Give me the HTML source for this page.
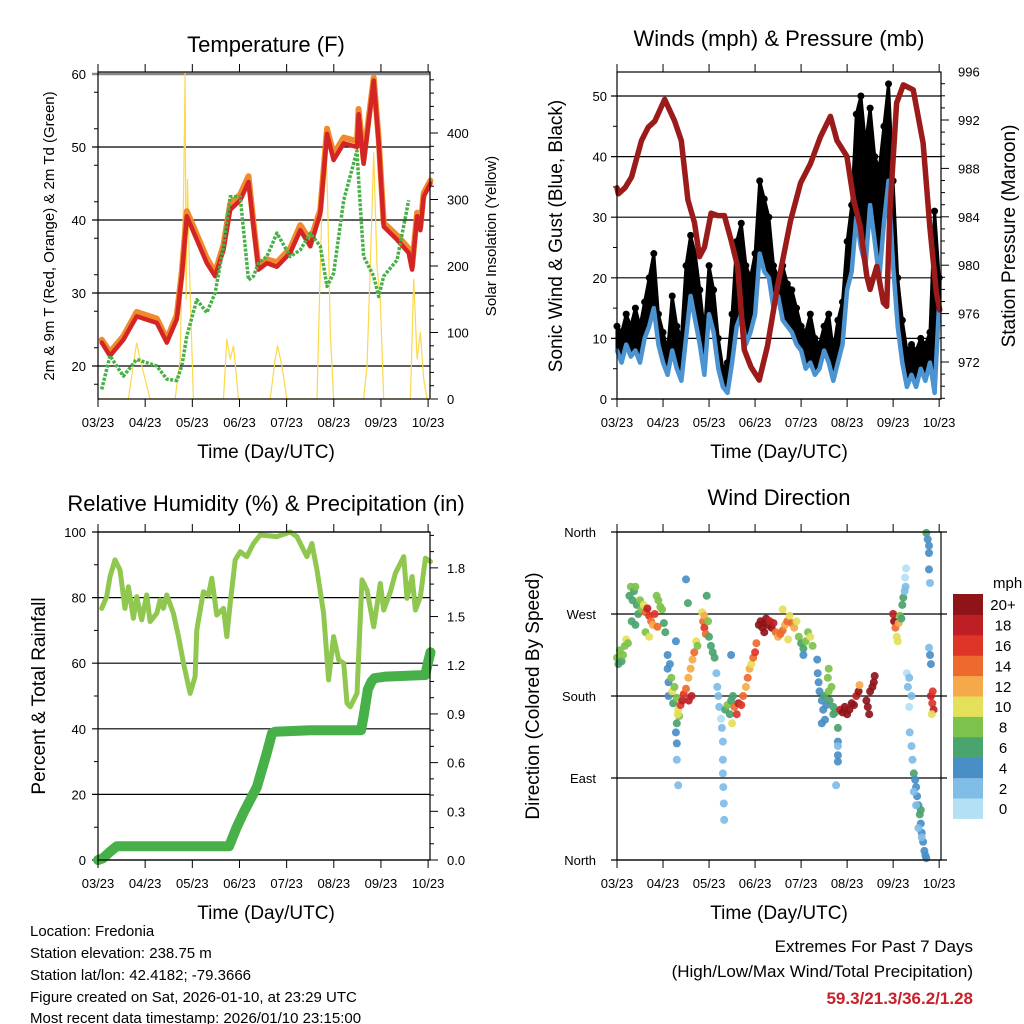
<!DOCTYPE html>
<html><head><meta charset="utf-8"><title>Station Meteogram</title>
<style>
html,body{margin:0;padding:0;background:#fff;}
svg{display:block;font-family:"Liberation Sans",Arial,sans-serif;}
</style></head>
<body>
<svg id="chart" width="1024" height="1024" viewBox="0 0 1024 1024" xmlns="http://www.w3.org/2000/svg">
<rect x="0" y="0" width="1024" height="1024" fill="#fff"/>
<g id="marks"></g>
<text x="266" y="52" font-size="22" text-anchor="middle">Temperature (F)</text>
<text x="779" y="46" font-size="22" text-anchor="middle">Winds (mph) &amp; Pressure (mb)</text>
<text x="266" y="511" font-size="22" text-anchor="middle">Relative Humidity (%) &amp; Precipitation (in)</text>
<text x="779" y="505" font-size="22" text-anchor="middle">Wind Direction</text>
<text x="266" y="458" font-size="19" text-anchor="middle">Time (Day/UTC)</text>
<text x="779" y="458" font-size="19" text-anchor="middle">Time (Day/UTC)</text>
<text x="266" y="919" font-size="19" text-anchor="middle">Time (Day/UTC)</text>
<text x="779" y="919" font-size="19" text-anchor="middle">Time (Day/UTC)</text>
<text transform="translate(54,236) rotate(-90)" font-size="15" text-anchor="middle">2m &amp; 9m T (Red, Orange) &amp; 2m Td (Green)</text>
<text transform="translate(496,236) rotate(-90)" font-size="15" text-anchor="middle">Solar Insolation (Yellow)</text>
<text transform="translate(562,236) rotate(-90)" font-size="19" text-anchor="middle">Sonic Wind &amp; Gust (Blue, Black)</text>
<text transform="translate(1015,236) rotate(-90)" font-size="19" text-anchor="middle">Station Pressure (Maroon)</text>
<text transform="translate(45,696) rotate(-90)" font-size="19" text-anchor="middle">Percent &amp; Total Rainfall</text>
<text transform="translate(539,696) rotate(-90)" font-size="19" text-anchor="middle">Direction (Colored By Speed)</text>
<g font-size="15">
<text x="30" y="936">Location: Fredonia</text>
<text x="30" y="958">Station elevation: 238.75 m</text>
<text x="30" y="980">Station lat/lon: 42.4182; -79.3666</text>
<text x="30" y="1002">Figure created on Sat, 2026-01-10, at 23:29 UTC</text>
<text x="30" y="1023">Most recent data timestamp: 2026/01/10 23:15:00</text>
</g>
<text x="973" y="952" font-size="17" text-anchor="end">Extremes For Past 7 Days</text>
<text x="973" y="977" font-size="17" text-anchor="end">(High/Low/Max Wind/Total Precipitation)</text>
<text x="973" y="1004" font-size="17" font-weight="bold" fill="#c8202a" text-anchor="end">59.3/21.3/36.2/1.28</text>
</svg>
<script>
const xTickLabels = ['03/23','04/23','05/23','06/23','07/23','08/23','09/23','10/23'];
const tempTicks = [20,30,40,50,60];
const solarTicks = [0,100,200,300,400];
const windTicks = [0,10,20,30,40,50];
const pressTicks = [972,976,980,984,988,992,996];
const rhTicks = [0,20,40,60,80,100];
const precipTicks = ['0.0','0.3','0.6','0.9','1.2','1.5','1.8'];
const dirTickLabels = ['North','East','South','West','North'];
const speedBinLabels = ['0','2','4','6','8','10','12','14','16','18','20+'];

const tDays = [0.078,0.255,0.538,0.821,1.246,1.458,1.67,1.776,1.883,2.095,2.307,2.484,2.661,2.803,3.015,3.192,3.298,3.404,3.581,3.793,4.076,4.289,4.501,4.713,4.855,4.996,5.209,5.492,5.527,5.633,5.846,5.952,6.058,6.341,6.589,6.66,6.766,6.837,6.907,7.049];
const temp2m = [23.2,21.4,23.6,26.8,25.9,23.2,26.4,32.3,40.5,37.3,34.1,32.3,35.9,41.4,42.7,45.2,39.1,33.2,34.1,33.6,35.5,38.6,36.4,40.9,51.8,48.2,50.5,50.0,54.5,47.7,59.1,50.5,39.1,37.3,35.5,33.2,40.5,38.6,43.2,45.0];
const temp9m = [23.6,21.9,24.1,27.4,26.5,23.7,27.0,32.9,41.2,38.0,34.8,32.8,36.6,42.2,43.5,46.0,39.6,33.6,34.6,34.2,36.1,39.3,37.2,41.4,52.5,49.0,51.3,50.8,55.2,48.3,59.5,51.0,39.6,37.9,36.1,33.6,41.0,39.1,43.7,45.4];
const tdDays = [0.078,0.396,0.538,0.75,1.033,1.175,1.387,1.67,2.024,2.236,2.519,2.732,2.873,3.156,3.227,3.404,3.652,3.793,4.076,4.289,4.501,4.713,4.926,5.138,5.28,5.492,5.598,5.846,5.917,6.058,6.412,6.624,6.766,6.872,7.049];
const dewpoint = [16.8,21.4,18.6,20.9,20,18.2,18,20,24.1,29.1,27.3,30,36.4,43.2,43.2,31.8,32.3,34.1,35,38.2,35,35.9,38.2,36.4,30.9,32.7,42.7,49.5,45.5,35,32.3,29.5,32.3,34.5,42.7];
const solarDays = [0,0.644,0.786,0.821,0.892,0.998,1.104,1.635,1.741,1.812,1.847,1.868,1.897,1.939,2.024,2.661,2.732,2.803,2.873,2.979,3.652,3.758,3.807,3.9,4.006,4.643,4.714,4.785,4.82,4.869,4.926,4.996,5.633,5.704,5.775,5.846,5.917,5.987,6.058,6.624,6.695,6.766,6.837,6.907,6.978,7.05];
const solar = [0,0,70,84,60,30,0,0,60,300,490,150,330,200,0,0,90,60,80,0,0,60,80,50,0,0,200,380,410,300,100,0,0,50,200,370,200,150,0,0,180,60,100,30,0,0];

const presDays = [0.0,0.029,0.173,0.317,0.533,0.677,0.821,1.037,1.253,1.397,1.541,1.685,1.793,1.901,2.045,2.189,2.333,2.477,2.621,2.765,2.909,3.089,3.269,3.485,3.772,3.989,4.204,4.42,4.636,4.78,4.996,5.14,5.284,5.428,5.5,5.644,5.788,5.86,5.932,6.076,6.22,6.436,6.652,6.796,6.94,7.012];
const pressure = [986.4,985.9,986.4,987.3,990.3,991.4,991.9,993.7,991.9,990.3,985.4,983.5,980.7,981.5,984.3,984.1,984.1,982.1,979.9,973.0,971.6,970.5,973.3,978.2,983.7,986.8,988.4,990.6,992.3,990.3,989.0,985.4,983.2,979.1,978.0,979.9,976.9,976.6,984.6,993.4,994.9,994.5,990.1,983.2,977.7,976.3];
const windStep = 0.1;
const windSpeed = [8,6,9,7,8,6,10,12,15,9,6,4,8,5,3,10,17,13,9,4,14,11,5,2,1,6,12,14,9,11,14,24,21,20,15,17,13,12,11,9,8,5,6,4,5,8,6,3,6,9,18,21,30,25,22,32,26,20,29,36,22,12,6,2,4,2,5,3,6,1,16];
const windGust = [12,11,14,12,15,12,16,20,24,14,11,8,17,12,10,22,27,24,18,11,22,18,10,5,6,14,26,29,22,20,24,36,33,30,22,20,22,19,18,15,12,11,14,10,9,12,14,8,13,16,26,32,47,50,42,48,40,38,45,52,36,20,13,8,9,8,10,9,11,31,20];

const rhDays = [0.078,0.184,0.255,0.361,0.467,0.573,0.644,0.75,0.821,0.927,1.033,1.104,1.246,1.316,1.387,1.458,1.599,1.706,1.812,1.953,2.059,2.095,2.236,2.343,2.413,2.519,2.661,2.732,2.803,2.909,3.015,3.156,3.298,3.439,3.793,4.076,4.218,4.43,4.536,4.643,4.784,4.89,4.996,5.103,5.209,5.28,5.35,5.492,5.598,5.704,5.846,5.987,6.058,6.2,6.306,6.483,6.553,6.66,6.73,6.837,6.943,7.049];
const rh = [76.7,80.3,86.4,91.5,88.4,76.7,83.3,73.7,80.3,73.2,80.8,72.7,75.2,79.3,76.7,80.8,75.2,68.1,60,50.8,55.9,70.1,81.8,80.8,85.9,74.7,76.7,68.1,78.3,91.5,94,92.5,96.5,99.1,98.6,100,98.6,92.5,96.5,88.4,75.2,54.9,68.1,61,60,47.8,46.7,50.8,85.4,82.3,71.1,84.3,76.2,81.8,87.4,92.5,79.8,86.4,76.2,80.3,92,91];
const precipDays = [0,0.1,0.25,0.4,2.78,2.94,3.1,3.37,3.58,3.69,3.75,4.5,5.58,5.64,5.72,5.8,5.86,6.1,6.94,7.0,7.05];
const precip = [0,0.01,0.05,0.085,0.085,0.2,0.3,0.45,0.66,0.78,0.79,0.8,0.8,0.9,1.05,1.1,1.12,1.13,1.14,1.22,1.28];

const dirPts = [
[0,222,8],[0.03,215,7],[0.06,230,8],[0.1,218,6],[0.13,225,8],[0.17,235,9],[0.2,242,10],[0.24,238,8],
[0.27,290,7],[0.3,300,8],[0.34,285,6],[0.37,295,7],[0.4,300,8],[0.43,280,6],[0.46,270,7],[0.5,285,9],[0.53,275,8],[0.32,262,6],[0.4,258,6],
[0.58,280,10],[0.62,272,14],[0.66,276,18],[0.7,268,16],[0.74,262,14],[0.78,258,12],[0.82,270,16],[0.86,290,8],[0.9,285,8],[0.94,278,9],[0.98,275,8],[0.62,250,8],[0.7,245,10],[1.02,260,6],[1.05,250,6],[0.88,256,14],
[1.1,225,4],[1.1,210,4],[1.12,195,4],[1.12,180,4],[1.15,215,4],
[1.18,200,8],[1.2,185,10],[1.22,172,6],[1.25,190,8],[1.3,178,8],[1.33,165,10],[1.35,158,8],[1.38,170,16],[1.42,175,18],[1.45,182,16],[1.3,150,6],[1.28,140,4],[1.3,128,4],[1.3,110,2],[1.33,82,2],[1.32,160,10],
[1.5,308,4],[1.28,240,4],[1.54,282,6],
[1.5,188,14],[1.55,200,12],[1.6,210,12],[1.64,220,12],[1.68,228,14],[1.72,240,10],[1.62,180,18],[1.56,175,18],[1.75,235,8],
[1.85,272,10],[1.87,262,14],[1.9,255,16],[1.93,248,14],[1.9,268,12],[1.95,290,6],[1.98,262,8],[2.0,245,6],[2.04,235,6],[2.08,228,6],[2.12,222,6],
[2.16,205,2],[2.18,190,2],[2.2,180,2],[2.22,168,2],[2.26,155,0],[2.3,130,2],[2.3,110,2],[2.3,95,2],[2.31,80,2],[2.32,62,2],[2.33,44,2],[2.28,145,2],
[2.35,165,6],[2.4,170,8],[2.45,160,6],[2.48,175,6],[2.5,150,10],[2.55,168,14],[2.6,160,16],[2.64,172,18],[2.7,170,16],[2.74,180,14],[2.48,225,4],[2.52,180,6],
[2.8,190,12],[2.84,200,14],[2.88,210,12],[2.92,215,10],[2.96,222,14],[3.0,228,16],[3.03,238,14],
[3.08,258,20],[3.12,262,20],[3.16,255,20],[3.2,260,20],[3.24,265,20],[3.28,258,20],[3.32,262,18],[3.36,255,20],[3.4,260,18],[3.2,250,20],
[3.45,250,14],[3.5,245,12],[3.55,248,14],[3.6,252,14],[3.65,258,12],[3.7,262,14],[3.75,268,10],[3.8,260,14],[3.85,255,12],[3.9,262,10],[3.72,242,10],[3.6,275,10],
[3.95,245,8],[4.0,238,6],[4.05,232,6],[4.1,240,8],[4.15,250,8],[4.2,245,10],[4.25,235,8],[4.05,225,4],
[4.35,220,4],[4.36,205,4],[4.38,195,4],[4.4,185,4],[4.45,175,4],[4.48,165,4],[4.5,180,6],[4.55,170,4],[4.6,185,8],[4.62,175,6],[4.66,190,8],[4.7,168,6],[4.74,162,6],[4.52,154,4],[4.58,200,8],[4.6,210,8],[4.45,150,4],
[4.8,145,6],[4.8,130,4],[4.8,115,4],[4.8,125,2],[4.8,108,4],[4.76,82,2],[4.7,160,6],
[4.85,165,18],[4.9,162,20],[4.95,168,20],[5.0,160,20],[5.05,165,20],[5.1,172,20],[5.15,170,20],[5.2,180,18],[5.25,185,20],[5.27,192,12],
[5.42,175,20],[5.45,168,20],[5.48,160,20],[5.5,185,20],[5.55,190,20],[5.58,195,20],[5.6,202,20],
[6.0,270,18],[6.02,262,20],[6.05,255,14],[6.08,245,10],[6.1,240,10],[6.12,260,12],[6.15,268,8],[6.18,265,6],[6.2,280,6],[6.22,288,6],[6.25,295,2],[6.26,310,0],[6.28,320,0],[6.27,300,2],
[6.3,205,0],[6.32,190,2],[6.35,200,2],[6.4,180,2],[6.35,168,0],[6.36,140,2],[6.4,125,2],[6.42,110,2],[6.45,95,6],[6.5,80,4],[6.52,70,4],[6.55,60,4],[6.58,50,6],[6.6,40,4],[6.62,30,4],[6.65,20,4],[6.68,10,4],[6.7,5,4],[6.72,2,4],[6.55,35,2],[6.48,88,4],[6.6,55,6],[6.5,60,2],[6.45,75,2],[6.62,25,2],
[6.72,359,6],[6.75,352,4],[6.78,345,4],[6.78,337,4],[6.78,319,4],[6.8,304,2],[6.78,233,2],[6.8,225,4],[6.82,215,4],
[6.82,180,18],[6.85,172,16],[6.88,165,18],[6.84,160,10],[6.86,185,16]
];
const dirDays = dirPts.map(p=>p[0]);
const dirVals = dirPts.map(p=>p[1]);
const dirSpeed = dirPts.map(p=>p[2]);
const speedColors = ['#b3e0f5','#7fbce6','#4a8ec6','#4aa46e','#7dc24b','#e5e05a','#f5a94a','#ee6a2c','#de3528','#bd1f25','#8f1418'];

const P1 = {x0:98,x1:430,y0:72,y1:399};
const P2 = {x0:617,x1:941,y0:72,y1:399};
const P3 = {x0:98,x1:430,y0:532,y1:860};
const P4 = {x0:617,x1:941,y0:532,y1:860};
const xs = (P,d)=>P.x0 + d*(P.x1-P.x0)/7.04;
const yTemp = t=>366-(t-20)*7.3;
const ySolar = s=>399-s*0.665;
const yWind = w=>399-w*6.06;
const yPres = p=>362-(p-972)*12.1;
const yRH = r=>860-r*3.28;
const yPrecip = p=>860-p*162.3;
const yDir = d=>860-d*328/360;

const NS='http://www.w3.org/2000/svg';
const root=document.getElementById('marks');
function mk(tag,attrs,parent){const el=document.createElementNS(NS,tag);for(const k in attrs)el.setAttribute(k,attrs[k]);(parent||root).appendChild(el);return el;}
function polyline(P,days,vals,yf,stroke,w,name,extra){
  const pts=days.map((d,i)=>xs(P,d).toFixed(1)+','+yf(vals[i]).toFixed(1)).join(' ');
  const el=mk('polyline',Object.assign({points:pts,fill:'none',stroke:stroke,'stroke-width':w,'stroke-linejoin':'round','stroke-linecap':'round'},extra||{}));
  
  
  return el;
}
function hline(x0,x1,y,col,w,name){const el=mk('line',{x1:x0,x2:x1,y1:y,y2:y,stroke:col,'stroke-width':w});
  
  }
function txt(x,y,s,anchor,size,name){const el=mk('text',{x:x,y:y,'font-size':size,'text-anchor':anchor});el.textContent=s;
  
  }
function tick(x1,y1,x2,y2,name){const el=mk('line',{x1:x1,y1:y1,x2:x2,y2:y2,stroke:'#000','stroke-width':1});
  
  }
function frame(P,name){const el=mk('rect',{x:P.x0,y:P.y0,width:P.x1-P.x0,height:P.y1-P.y0,fill:'none',stroke:'#000','stroke-width':1.2});
  
  }
function xAxis(P,prefix){
  xTickLabels.forEach((lab,i)=>{const x=xs(P,i);
    tick(x,P.y1,x,P.y1+8,prefix+'-x-tick');tick(x,P.y0,x,P.y0-8,prefix+'-top-tick');
    txt(x,P.y1+28,lab,'middle',13,prefix+'-x-tick-label');});
}

// panel 1
tempTicks.forEach(t=>{hline(P1.x0-6,P1.x1,yTemp(t),t===60?'#888':'#000',t===60?2.5:1.2,'temp-gridline');txt(P1.x0-12,yTemp(t)+5,String(t),'end',13,'temp-tick-label');});
[17.5,22.5,27.5,32.5,37.5,42.5,47.5,52.5,57.5].forEach(t=>tick(P1.x0-4,yTemp(t),P1.x0,yTemp(t),'temp-minor-tick'));
for(let s=0;s<=480;s+=20){const y=ySolar(s);tick(P1.x1,y,P1.x1+(s%100===0?8:4),y,'solar-tick');}
solarTicks.forEach(s=>txt(P1.x1+17,ySolar(s)+5,String(s),'start',13,'solar-tick-label'));
polyline(P1,solarDays,solar,ySolar,'#fbd94a',1.2,'solar-insolation-line');
polyline(P1,tDays,temp9m,yTemp,'#f08a2c',6,'temp-9m-line');
polyline(P1,tDays,temp2m,yTemp,'#d42424',4.5,'temp-2m-line');
polyline(P1,tDays,dewpoint,yTemp,'#48b048',3.5,'dewpoint-line',{'stroke-dasharray':'3 1.5','stroke-linecap':'butt'});
frame(P1,'temperature-plot-frame');xAxis(P1,'temp');

// panel 2
windTicks.forEach(w=>{hline(P2.x0-6,P2.x1,yWind(w),'#000',1.2,'wind-gridline');txt(P2.x0-10,yWind(w)+5,String(w),'end',13,'wind-tick-label');});
[5,15,25,35,45].forEach(w=>tick(P2.x0-4,yWind(w),P2.x0,yWind(w),'wind-minor-tick'));
for(let p=969;p<=996;p++){const y=yPres(p);if(y<P2.y0||y>P2.y1)continue;tick(P2.x1,y,P2.x1+(p%4===0?8:4),y,'pressure-tick');}
pressTicks.forEach(p=>txt(P2.x1+17,yPres(p)+5,String(p),'start',13,'pressure-tick-label'));
const windDays=windSpeed.map((_,i)=>Math.min(i*windStep,7.0));
{
  const top=windGust.map((g,i)=>xs(P2,windDays[i]).toFixed(1)+','+yWind(g).toFixed(1));
  const bot=windSpeed.map((w,i)=>xs(P2,windDays[i]).toFixed(1)+','+yWind(w).toFixed(1)).reverse();
  const band=mk('polygon',{points:top.concat(bot).join(' '),fill:'#000',stroke:'#000','stroke-width':3,'stroke-linejoin':'round'});
  
  
}
windGust.forEach((g,i)=>{
  const c=mk('circle',{cx:xs(P2,windDays[i]),cy:yWind(g),r:3.5,fill:'#000'});
  
  
});
polyline(P2,windDays,windSpeed,yWind,'#4b93d1',4.5,'wind-speed-line');
polyline(P2,presDays,pressure,yPres,'#9b1b1b',5.5,'pressure-line');
frame(P2,'winds-plot-frame');xAxis(P2,'wind');

// panel 3
rhTicks.forEach(r=>{hline(P3.x0-6,P3.x1,yRH(r),'#000',1.2,'rh-gridline');txt(P3.x0-12,yRH(r)+5,String(r),'end',13,'rh-tick-label');});
[10,30,50,70,90].forEach(r=>tick(P3.x0-4,yRH(r),P3.x0,yRH(r),'rh-minor-tick'));
for(let k=0;k<=20;k++){const p=k*0.1;const y=yPrecip(p);if(y<P3.y0)continue;tick(P3.x1,y,P3.x1+(k%3===0?8:4),y,'precip-tick');}
precipTicks.forEach(p=>txt(P3.x1+17,yPrecip(parseFloat(p))+5,p,'start',13,'precip-tick-label'));
polyline(P3,rhDays,rh,yRH,'#8fc74f',5,'relative-humidity-line');
polyline(P3,precipDays,precip,yPrecip,'#48b048',10,'precipitation-line');
frame(P3,'humidity-plot-frame');xAxis(P3,'rh');

// panel 4
dirTickLabels.forEach((lab,i)=>{const y=yDir(i*90);hline(P4.x0-6,P4.x1+6,y,'#000',1.2,'direction-gridline');txt(P4.x0-21,y+5,lab,'end',13,'direction-tick-label');});
dirVals.forEach((v,i)=>{const bin=Math.min(10,Math.floor(dirSpeed[i]/2));
  const c=mk('circle',{cx:xs(P4,dirDays[i]).toFixed(1),cy:yDir(v).toFixed(1),r:4,fill:speedColors[bin],'fill-opacity':0.92});
  
  
});
frame(P4,'direction-plot-frame');xAxis(P4,'dir');
const cbTop=594, cbH=20.4;
txt(993,588,'mph','start',15,'colorbar-title');
speedBinLabels.forEach((lab,i)=>{const k=10-i;const y=cbTop+k*cbH;
  const r=mk('rect',{x:953,y:y,width:30,height:cbH+0.5,fill:speedColors[i]});
  
  
  txt(1003,y+cbH/2+6,lab,'middle',15,'colorbar-label');});
</script>
</body></html>
